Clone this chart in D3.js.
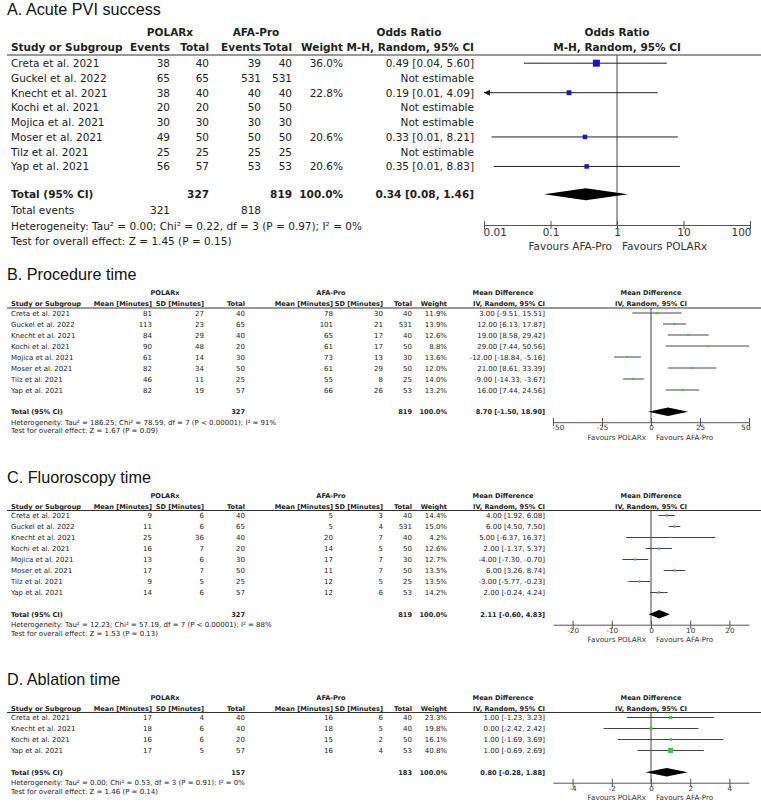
<!DOCTYPE html>
<html><head><meta charset="utf-8">
<script src="https://cdn.jsdelivr.net/npm/d3@7"></script>
<style>body{margin:0;background:#fff} svg{display:block}</style>
</head><body><svg id="c" width="761" height="804"></svg>
<script>
// ---------- Panel A: Acute PVI success (Odds Ratio) ----------
const studiesA = ["Creta et al. 2021","Guckel et al. 2022","Knecht et al. 2021","Kochi et al. 2021","Mojica et al. 2021","Moser et al. 2021","Tilz et al. 2021","Yap et al. 2021"];
const polEventsA = [38,65,38,20,30,49,25,56];
const polTotalA  = [40,65,40,20,30,50,25,57];
const afaEventsA = [39,531,40,50,30,50,25,53];
const afaTotalA  = [40,531,40,50,30,50,25,53];
const weightA = [36.0,null,22.8,null,null,20.6,null,20.6];
const orA   = [0.49,null,0.19,null,null,0.33,null,0.35];
const orLoA = [0.04,null,0.009,null,null,0.013,null,0.014];
const orHiA = [5.60,null,4.09,null,null,8.21,null,8.83];
const totalOrA = [0.34,0.08,1.46];
const totalNA = [327,819];
const totalEventsA = [321,818];
const hetA = "Heterogeneity: Tau\u00B2 = 0.00; Chi\u00B2 = 0.22, df = 3 (P = 0.97); I\u00B2 = 0%";
const testA = "Test for overall effect: Z = 1.45 (P = 0.15)";
const ticksA = [0.01,0.1,1,10,100];

// ---------- Panel B: Procedure time ----------
const studiesB = ["Creta et al. 2021","Guckel et al. 2022","Knecht et al. 2021","Kochi et al. 2021","Mojica et al. 2021","Moser et al. 2021","Tilz et al. 2021","Yap et al. 2021"];
const polMeanB = [81,113,84,90,61,82,46,82];
const polSdB   = [27,23,29,48,14,34,11,19];
const polNB    = [40,65,40,20,30,50,25,57];
const afaMeanB = [78,101,65,61,73,61,55,66];
const afaSdB   = [30,21,17,17,13,29,8,26];
const afaNB    = [40,531,40,50,30,50,25,53];
const weightB  = [11.9,13.9,12.6,8.8,13.6,12.0,14.0,13.2];
const mdB = [3.00,12.00,19.00,29.00,-12.00,21.00,-9.00,16.00];
const loB = [-9.51,6.13,8.58,7.44,-18.84,8.61,-14.33,7.44];
const hiB = [15.51,17.87,29.42,50.56,-5.16,33.39,-3.67,24.56];
const totalB = [8.70,-1.50,18.90];
const totalNB = [327,819];
const hetB = "Heterogeneity: Tau\u00B2 = 186.25; Chi\u00B2 = 78.59, df = 7 (P < 0.00001); I\u00B2 = 91%";
const testB = "Test for overall effect: Z = 1.67 (P = 0.09)";
const ticksB = [-50,-25,0,25,50];
const domainB = [-50,50];

// ---------- Panel C: Fluoroscopy time ----------
const studiesC = ["Creta et al. 2021","Guckel et al. 2022","Knecht et al. 2021","Kochi et al. 2021","Mojica et al. 2021","Moser et al. 2021","Tilz et al. 2021","Yap et al. 2021"];
const polMeanC = [9,11,25,16,13,17,9,14];
const polSdC   = [6,6,36,7,6,7,5,6];
const polNC    = [40,65,40,20,30,50,25,57];
const afaMeanC = [5,5,20,14,17,11,12,12];
const afaSdC   = [3,4,7,5,7,7,5,6];
const afaNC    = [40,531,40,50,30,50,25,53];
const weightC  = [14.4,15.0,4.2,12.6,12.7,13.5,13.5,14.2];
const mdC = [4.00,6.00,5.00,2.00,-4.00,6.00,-3.00,2.00];
const loC = [1.92,4.50,-6.37,-1.37,-7.30,3.26,-5.77,-0.24];
const hiC = [6.08,7.50,16.37,5.37,-0.70,8.74,-0.23,4.24];
const totalC = [2.11,-0.60,4.83];
const totalNC = [327,819];
const hetC = "Heterogeneity: Tau\u00B2 = 12.23; Chi\u00B2 = 57.19, df = 7 (P < 0.00001); I\u00B2 = 88%";
const testC = "Test for overall effect: Z = 1.53 (P = 0.13)";
const ticksC = [-20,-10,0,10,20];
const domainC = [-25,25];

// ---------- Panel D: Ablation time ----------
const studiesD = ["Creta et al. 2021","Knecht et al. 2021","Kochi et al. 2021","Yap et al. 2021"];
const polMeanD = [17,18,16,17];
const polSdD   = [4,6,6,5];
const polND    = [40,40,20,57];
const afaMeanD = [16,18,15,16];
const afaSdD   = [6,5,2,4];
const afaND    = [40,40,50,53];
const weightD  = [23.3,19.8,16.1,40.8];
const mdD = [1.00,0.00,1.00,1.00];
const loD = [-1.23,-2.42,-1.69,-0.69];
const hiD = [3.23,2.42,3.69,2.69];
const totalD = [0.80,-0.28,1.88];
const totalND = [157,183];
const hetD = "Heterogeneity: Tau\u00B2 = 0.00; Chi\u00B2 = 0.53, df = 3 (P = 0.91); I\u00B2 = 0%";
const testD = "Test for overall effect: Z = 1.46 (P = 0.14)";
const ticksD = [-4,-2,0,2,4];
const domainD = [-5,5];

// ---------- drawing ----------
const svg = d3.select("#c");
const FT = "'DejaVu Sans', Verdana, sans-serif";
const TF = "'Liberation Sans', Arial, Helvetica, sans-serif";
const f2 = v => v.toFixed(2);
const ciText = (m, l, h) => `${f2(m)} [${f2(l)}, ${f2(h)}]`;

function txt(g, x, y, s, size, opt = {}) {
  return g.append("text").attr("x", x).attr("y", y).text(s)
    .attr("text-anchor", opt.anchor || "start")
    .attr("font-size", size)
    .attr("font-weight", opt.bold ? "bold" : "normal")
    .attr("fill", opt.fill || "#222")
    .attr("font-family", opt.family || FT);
}

function drawAxis(g, x, y, ticks, fmt, fs, favL, favR, center) {
  const ax = d3.axisBottom(x).tickValues(ticks).tickFormat(fmt).tickSizeInner(4).tickSizeOuter(0);
  const a = g.append("g").attr("transform", `translate(0,${y})`).call(ax);
  a.select(".domain").attr("stroke", "#555");
  a.selectAll(".tick line").attr("y1", -4).attr("y2", 4).attr("stroke", "#555");
  const [r0, r1] = x.range();
  a.selectAll(".tick text").attr("dy", null).attr("y", fs * 0.95 + 1)
    .attr("font-size", fs).attr("font-family", FT).attr("fill", "#333")
    .attr("text-anchor", d => Math.abs(x(d) - r0) < 1 ? "start" : (Math.abs(x(d) - r1) < 1 ? "end" : "middle"))
    .attr("x", d => Math.abs(x(d) - r0) < 1 ? -1 : (Math.abs(x(d) - r1) < 1 ? 1 : 0));
  const c = x(center);
  txt(g, c - 5, y + fs * 2.35 + 0.5, favL, fs, { anchor: "end", fill: "#333" });
  txt(g, c + 5, y + fs * 2.35 + 0.5, favR, fs, { fill: "#333" });
}

// ===== Panel A =====
(function () {
  const g = svg.append("g");
  const fs = 10.5;
  txt(g, 7, 15, "A. Acute PVI success", 16.2, { family: TF, fill: "#111" });
  const h1 = 36, h2 = 51, line = 55;
  txt(g, 170, h1, "POLARx", fs, { anchor: "middle", bold: true });
  txt(g, 256, h1, "AFA-Pro", fs, { anchor: "middle", bold: true });
  txt(g, 409, h1, "Odds Ratio", fs, { anchor: "middle", bold: true });
  txt(g, 617, h1, "Odds Ratio", fs, { anchor: "middle", bold: true });
  txt(g, 11, h2, "Study or Subgroup", fs, { bold: true });
  txt(g, 170, h2, "Events", fs, { anchor: "end", bold: true });
  txt(g, 209, h2, "Total", fs, { anchor: "end", bold: true });
  txt(g, 261, h2, "Events", fs, { anchor: "end", bold: true });
  txt(g, 292, h2, "Total", fs, { anchor: "end", bold: true });
  txt(g, 343, h2, "Weight", fs, { anchor: "end", bold: true });
  txt(g, 474, h2, "M-H, Random, 95% CI", fs, { anchor: "end", bold: true });
  txt(g, 617, h2, "M-H, Random, 95% CI", fs, { anchor: "middle", bold: true });
  g.append("line").attr("x1", 7).attr("x2", 761).attr("y1", line).attr("y2", line).attr("stroke", "#333");

  const x = d3.scaleLog().domain([ticksA[0], ticksA[ticksA.length - 1]]).range([484, 750]);
  const rowB = i => 67 + i * 14.75;
  const totB = 198, axisY = 225;
  g.append("line").attr("x1", x(1)).attr("x2", x(1)).attr("y1", line).attr("y2", axisY).attr("stroke", "#444");

  studiesA.forEach((s, i) => {
    const y = rowB(i);
    txt(g, 11, y, s, fs);
    txt(g, 170, y, polEventsA[i], fs, { anchor: "end" });
    txt(g, 209, y, polTotalA[i], fs, { anchor: "end" });
    txt(g, 261, y, afaEventsA[i], fs, { anchor: "end" });
    txt(g, 292, y, afaTotalA[i], fs, { anchor: "end" });
    if (orA[i] == null) {
      txt(g, 474, y, "Not estimable", fs, { anchor: "end" });
      return;
    }
    txt(g, 343, y, weightA[i].toFixed(1) + "%", fs, { anchor: "end" });
    txt(g, 474, y, ciText(orA[i], orLoA[i], orHiA[i]), fs, { anchor: "end" });
    const yc = y - 3.8;
    const dmin = x.domain()[0];
    const lo = Math.max(orLoA[i], dmin);
    g.append("line").attr("x1", x(lo)).attr("x2", x(Math.min(orHiA[i], x.domain()[1])))
      .attr("y1", yc).attr("y2", yc).attr("stroke", "#222");
    if (orLoA[i] < dmin) {
      const ax0 = x(dmin);
      g.append("path").attr("d", `M${ax0},${yc}L${ax0 + 6},${yc - 3}L${ax0 + 6},${yc + 3}Z`).attr("fill", "#111");
    }
    const sz = 1.2 + weightA[i] * 0.16;
    g.append("rect").attr("x", x(orA[i]) - sz / 2).attr("y", yc - sz / 2)
      .attr("width", sz).attr("height", sz).attr("fill", "#1212e6");
  });

  txt(g, 11, totB, "Total (95% CI)", fs, { bold: true });
  txt(g, 209, totB, totalNA[0], fs, { anchor: "end", bold: true });
  txt(g, 292, totB, totalNA[1], fs, { anchor: "end", bold: true });
  txt(g, 343, totB, "100.0%", fs, { anchor: "end", bold: true });
  txt(g, 474, totB, ciText(totalOrA[0], totalOrA[1], totalOrA[2]), fs, { anchor: "end", bold: true });
  const tc = totB - 3.8;
  g.append("path").attr("d",
    `M${x(totalOrA[1])},${tc}L${x(totalOrA[0])},${tc - 6}L${x(totalOrA[2])},${tc}L${x(totalOrA[0])},${tc + 6}Z`)
    .attr("fill", "#000");

  txt(g, 11, 214, "Total events", fs);
  txt(g, 170, 214, totalEventsA[0], fs, { anchor: "end" });
  txt(g, 261, 214, totalEventsA[1], fs, { anchor: "end" });
  txt(g, 11, 230, hetA, fs);
  txt(g, 11, 244.5, testA, fs);

  drawAxis(g, x, axisY, ticksA, d => String(d), fs, "Favours AFA-Pro", "Favours POLARx", 1);
})();

// ===== Continuous panels =====
function contPanel(p) {
  const g = svg.append("g");
  const fs = 7.0;   // body text
  const hfs = 6.6;  // bold header text
  const afs = 7.2;  // axis text
  const r0 = p.rows0;
  const n = p.studies.length;
  const yc = i => r0 + 11 * i;
  const bl = c => c + 2.5;
  txt(g, 7, r0 - 33, p.title, 16.2, { family: TF, fill: "#111" });
  const h1 = r0 - 18, h2 = r0 - 7, line = r0 - 5;
  txt(g, 165, h1, "POLARx", hfs, { anchor: "middle", bold: true });
  txt(g, 331, h1, "AFA-Pro", hfs, { anchor: "middle", bold: true });
  txt(g, 503, h1, "Mean Difference", hfs, { anchor: "middle", bold: true });
  txt(g, 651, h1, "Mean Difference", hfs, { anchor: "middle", bold: true });
  txt(g, 11, h2, "Study or Subgroup", hfs, { bold: true });
  txt(g, 152, h2, "Mean [Minutes]", hfs, { anchor: "end", bold: true });
  txt(g, 204, h2, "SD [Minutes]", hfs, { anchor: "end", bold: true });
  txt(g, 245, h2, "Total", hfs, { anchor: "end", bold: true });
  txt(g, 333, h2, "Mean [Minutes]", hfs, { anchor: "end", bold: true });
  txt(g, 383, h2, "SD [Minutes]", hfs, { anchor: "end", bold: true });
  txt(g, 412, h2, "Total", hfs, { anchor: "end", bold: true });
  txt(g, 447, h2, "Weight", hfs, { anchor: "end", bold: true });
  txt(g, 545, h2, "IV, Random, 95% CI", hfs, { anchor: "end", bold: true });
  txt(g, 651, h2, "IV, Random, 95% CI", hfs, { anchor: "middle", bold: true });
  g.append("line").attr("x1", 7).attr("x2", 761).attr("y1", line).attr("y2", line).attr("stroke", "#333");

  const x = d3.scaleLinear().domain(p.domain).range([553, 749]);
  const totC = yc(n - 1) + 21.7;
  const axisY = totC + 10.5;
  g.append("line").attr("x1", x(0)).attr("x2", x(0)).attr("y1", line).attr("y2", axisY).attr("stroke", "#444");

  p.studies.forEach((s, i) => {
    const c = yc(i), y = bl(c);
    txt(g, 11, y, s, fs);
    txt(g, 152, y, p.pm[i], fs, { anchor: "end" });
    txt(g, 204, y, p.ps[i], fs, { anchor: "end" });
    txt(g, 245, y, p.pn[i], fs, { anchor: "end" });
    txt(g, 333, y, p.am[i], fs, { anchor: "end" });
    txt(g, 383, y, p.as[i], fs, { anchor: "end" });
    txt(g, 412, y, p.an[i], fs, { anchor: "end" });
    txt(g, 447, y, p.w[i].toFixed(1) + "%", fs, { anchor: "end" });
    txt(g, 545, y, ciText(p.md[i], p.lo[i], p.hi[i]), fs, { anchor: "end" });
    const [d0, d1] = x.domain();
    g.append("line").attr("x1", x(Math.max(p.lo[i], d0))).attr("x2", x(Math.min(p.hi[i], d1)))
      .attr("y1", c).attr("y2", c).attr("stroke", "#444");
    const sz = 0.9 + p.w[i] * 0.1;
    g.append("rect").attr("x", x(p.md[i]) - sz / 2).attr("y", c - sz / 2)
      .attr("width", sz).attr("height", sz).attr("fill", "#33cc33");
  });

  const tb = bl(totC);
  txt(g, 11, tb, "Total (95% CI)", hfs, { bold: true });
  txt(g, 245, tb, p.totN[0], hfs, { anchor: "end", bold: true });
  txt(g, 412, tb, p.totN[1], hfs, { anchor: "end", bold: true });
  txt(g, 447, tb, "100.0%", hfs, { anchor: "end", bold: true });
  txt(g, 545, tb, ciText(p.tot[0], p.tot[1], p.tot[2]), hfs, { anchor: "end", bold: true });
  g.append("path").attr("d",
    `M${x(p.tot[1])},${totC}L${x(p.tot[0])},${totC - 4.3}L${x(p.tot[2])},${totC}L${x(p.tot[0])},${totC + 4.3}Z`)
    .attr("fill", "#000");
  txt(g, 11, tb + 10.5, p.het, fs);
  txt(g, 11, tb + 19.2, p.test, fs);

  drawAxis(g, x, axisY, p.ticks, d => String(d), afs, "Favours POLARx", "Favours AFA-Pro", 0);
}

contPanel({ title: "B. Procedure time", rows0: 313, studies: studiesB,
  pm: polMeanB, ps: polSdB, pn: polNB, am: afaMeanB, as: afaSdB, an: afaNB,
  w: weightB, md: mdB, lo: loB, hi: hiB, tot: totalB, totN: totalNB,
  het: hetB, test: testB, ticks: ticksB, domain: domainB });

contPanel({ title: "C. Fluoroscopy time", rows0: 515.5, studies: studiesC,
  pm: polMeanC, ps: polSdC, pn: polNC, am: afaMeanC, as: afaSdC, an: afaNC,
  w: weightC, md: mdC, lo: loC, hi: hiC, tot: totalC, totN: totalNC,
  het: hetC, test: testC, ticks: ticksC, domain: domainC });

contPanel({ title: "D. Ablation time", rows0: 717.5, studies: studiesD,
  pm: polMeanD, ps: polSdD, pn: polND, am: afaMeanD, as: afaSdD, an: afaND,
  w: weightD, md: mdD, lo: loD, hi: hiD, tot: totalD, totN: totalND,
  het: hetD, test: testD, ticks: ticksD, domain: domainD });
</script>
</body></html>
